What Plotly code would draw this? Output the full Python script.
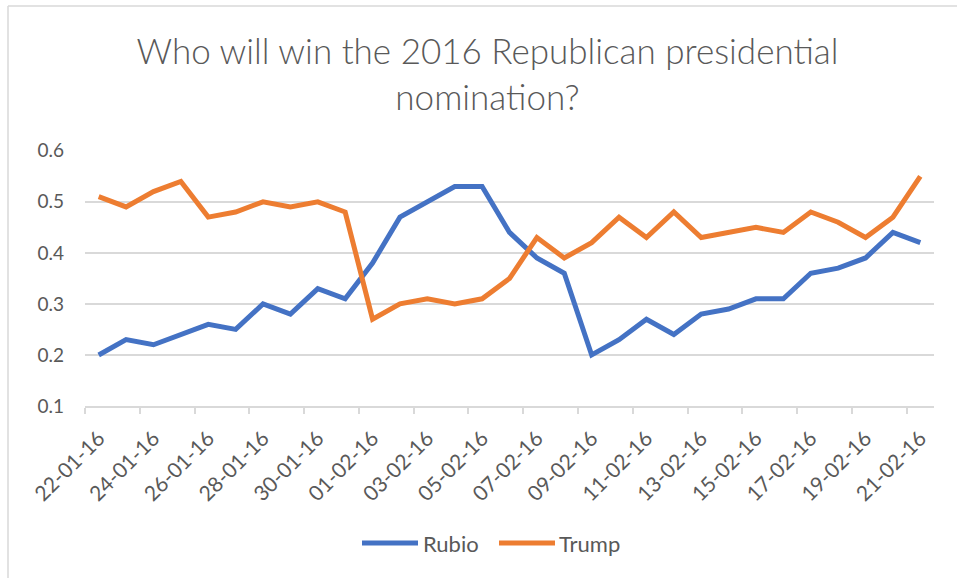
import plotly.graph_objects as go

dates = [
    "22-01-16", "23-01-16", "24-01-16", "25-01-16", "26-01-16", "27-01-16",
    "28-01-16", "29-01-16", "30-01-16", "31-01-16", "01-02-16", "02-02-16",
    "03-02-16", "04-02-16", "05-02-16", "06-02-16", "07-02-16", "08-02-16",
    "09-02-16", "10-02-16", "11-02-16", "12-02-16", "13-02-16", "14-02-16",
    "15-02-16", "16-02-16", "17-02-16", "18-02-16", "19-02-16", "20-02-16",
    "21-02-16",
]
rubio = [
    0.20, 0.23, 0.22, 0.24, 0.26, 0.25, 0.30, 0.28, 0.33, 0.31, 0.38, 0.47,
    0.50, 0.53, 0.53, 0.44, 0.39, 0.36, 0.20, 0.23, 0.27, 0.24, 0.28, 0.29,
    0.31, 0.31, 0.36, 0.37, 0.39, 0.44, 0.42,
]
trump = [
    0.51, 0.49, 0.52, 0.54, 0.47, 0.48, 0.50, 0.49, 0.50, 0.48, 0.27, 0.30,
    0.31, 0.30, 0.31, 0.35, 0.43, 0.39, 0.42, 0.47, 0.43, 0.48, 0.43, 0.44,
    0.45, 0.44, 0.48, 0.46, 0.43, 0.47, 0.55,
]
y_ticks = [0.1, 0.2, 0.3, 0.4, 0.5, 0.6]
series = [("Rubio", rubio, "#4472C4"), ("Trump", trump, "#ED7D31")]

idx = list(range(len(dates)))
label_idx = idx[::2]

TEXT = "#595959"
GRID = "#D9D9D9"
FONT = "Lato, Open Sans, sans-serif"

W, H = 957, 578
L, R, T, B = 85, 23, 150, 172
PW, PH = W - L - R, H - T - B


def px_x(px):
    return (px - L) / PW


def px_y(py):
    return (H - B - py) / PH


fig = go.Figure()
for name, vals, color in series:
    fig.add_trace(go.Scatter(
        x=idx, y=vals, mode="lines", name=name, showlegend=False,
        line=dict(color=color, width=5, shape="linear"),
    ))

# legend drawn as swatch lines plus labels below the plot
shapes = []
annotations = []
legend_items = [(362, 418, 421), (499, 555, 557)]
for (name, _, color), (lx0, lx1, tx) in zip(series, legend_items):
    shapes.append(dict(
        type="line", xref="paper", yref="paper",
        x0=px_x(lx0), x1=px_x(lx1), y0=px_y(543), y1=px_y(543),
        line=dict(color=color, width=5),
    ))
    annotations.append(dict(
        text=name, xref="paper", yref="paper", x=px_x(tx), y=px_y(543),
        xanchor="left", yanchor="middle", showarrow=False,
        font=dict(family=FONT, size=22, color=TEXT),
    ))

# chart-area border (top and left edges)
shapes.append(dict(type="line", xref="paper", yref="paper",
                   x0=px_x(8), x1=px_x(W + 10), y0=px_y(6), y1=px_y(6),
                   line=dict(color=GRID, width=1.5)))
shapes.append(dict(type="line", xref="paper", yref="paper",
                   x0=px_x(8), x1=px_x(8), y0=px_y(6), y1=px_y(H + 10),
                   line=dict(color=GRID, width=1.5)))

fig.update_layout(
    width=W, height=H,
    margin=dict(l=L, r=R, t=T, b=B),
    paper_bgcolor="white", plot_bgcolor="white",
    font=dict(family=FONT, color=TEXT, size=16),
    title=dict(
        text="Who will win the 2016 Republican presidential<br>nomination?",
        x=487.5 / W, xanchor="center", y=1 - 64 / H, yanchor="middle",
        font=dict(family=FONT, size=35, color=TEXT, weight=300),
    ),
    showlegend=False,
    xaxis=dict(
        range=[-0.5, len(dates) - 0.5],
        tickmode="array", tickvals=label_idx,
        ticktext=[dates[i] for i in label_idx],
        tickangle=-45, ticks="", ticklen=0, ticklabelstandoff=10,
        showgrid=False, zeroline=False,
        showline=True, linecolor=GRID, linewidth=1.5,
        tickfont=dict(size=21, color=TEXT),
        minor=dict(tick0=-0.5, dtick=2, ticks="outside", ticklen=6,
                   tickcolor=GRID, tickwidth=1.5, showgrid=False),
    ),
    yaxis=dict(
        range=[0.1, 0.6015],
        tickmode="array", tickvals=y_ticks,
        ticktext=[f"{v:.1f}" for v in y_ticks],
        showgrid=True, gridcolor=GRID, gridwidth=1.5,
        zeroline=False, showline=False, ticks="", ticklabelstandoff=20,
        tickfont=dict(size=19, color=TEXT),
    ),
    shapes=shapes,
    annotations=annotations,
)

fig.write_html("out.html")
